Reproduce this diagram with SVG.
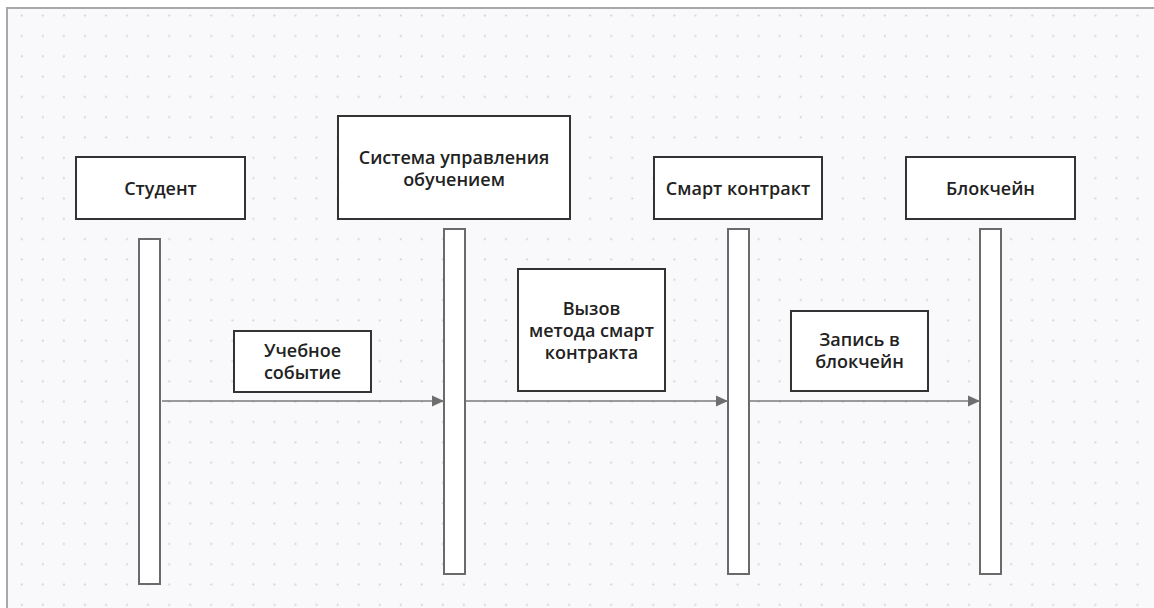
<svg xmlns="http://www.w3.org/2000/svg" width="1154" height="608" viewBox="0 0 1154 608">
<defs>
<pattern id="dots" x="11.5" y="5.5" width="21.05" height="20.32" patternUnits="userSpaceOnUse">
<rect x="9.4" y="9.2" width="1.8" height="1.8" fill="#cfcfd4"/>
</pattern>
<marker id="arr" viewBox="0 0 12 12" refX="12" refY="6" markerWidth="12" markerHeight="12" markerUnits="userSpaceOnUse" orient="auto">
<path d="M0,0.5 L12,6 L0,11.5 z" fill="#6e6e6e"/>
</marker>
<style>
.box{fill:#fff;stroke:#333;stroke-width:2}
.life{fill:#fff;stroke:#6a6a6a;stroke-width:2}
.msg{stroke:#7a7a7a;stroke-width:1.6;fill:none}
.t{font-family:"Open Sans","Noto Sans","Liberation Sans",sans-serif;font-weight:600;font-size:18px;fill:#222;text-anchor:middle}
</style>
</defs>
<rect x="0" y="0" width="1154" height="608" fill="#fff"/>
<rect x="7" y="8" width="1147" height="600" fill="#f9f9fb"/>
<rect x="7" y="8" width="1147" height="600" fill="url(#dots)"/>
<path d="M7,608 V8 H1154" fill="none" stroke="#a8a8a8" stroke-width="2"/>

<g id="student">
<rect class="box" x="76" y="157" width="169" height="62"/>
<text class="t" x="160.5" y="195">Студент</text>
<rect class="life" x="139" y="239" width="21" height="345"/>
</g>
<g id="lms">
<rect class="box" x="338" y="116" width="232" height="103"/>
<text class="t" x="454" y="164">Система управления</text>
<text class="t" x="454" y="186">обучением</text>
<rect class="life" x="444" y="229" width="21" height="345"/>
</g>
<g id="smart">
<rect class="box" x="654" y="157" width="168" height="62"/>
<text class="t" x="738" y="195">Смарт контракт</text>
<rect class="life" x="728" y="229" width="21" height="345"/>
</g>
<g id="chain">
<rect class="box" x="906" y="157" width="169" height="62"/>
<text class="t" x="990.5" y="195">Блокчейн</text>
<rect class="life" x="980" y="229" width="21" height="345"/>
</g>

<g id="connectors">
<line class="msg" x1="162" y1="401" x2="444" y2="401" marker-end="url(#arr)"/>
<line class="msg" x1="466" y1="401" x2="728" y2="401" marker-end="url(#arr)"/>
<line class="msg" x1="750" y1="401" x2="980" y2="401" marker-end="url(#arr)"/>
</g>

<g id="label1">
<rect class="box" x="234" y="331" width="137" height="61"/>
<text class="t" x="302.5" y="357">Учебное</text>
<text class="t" x="302.5" y="379">событие</text>
</g>
<g id="label2">
<rect class="box" x="518" y="269" width="147" height="122"/>
<text class="t" x="591.5" y="315">Вызов</text>
<text class="t" x="591.5" y="337">метода смарт</text>
<text class="t" x="591.5" y="359">контракта</text>
</g>
<g id="label3">
<rect class="box" x="791" y="311" width="137" height="80"/>
<text class="t" x="859.5" y="346">Запись в</text>
<text class="t" x="859.5" y="368">блокчейн</text>
</g>
</svg>
